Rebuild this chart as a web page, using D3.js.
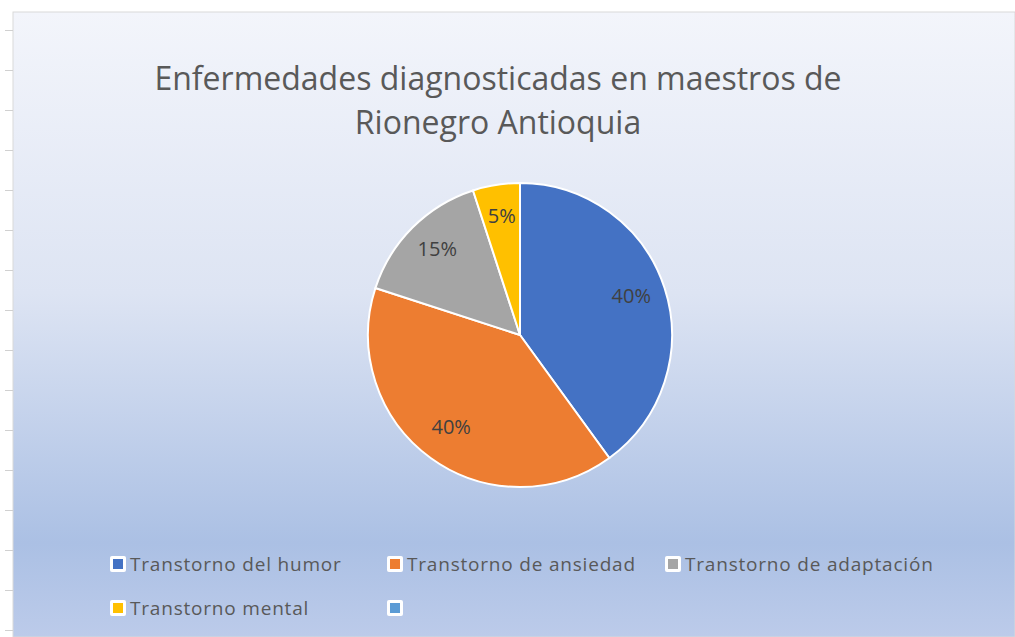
<!DOCTYPE html>
<html>
<head>
<meta charset="utf-8">
<script src="https://cdn.jsdelivr.net/npm/d3@7"></script>
<style>
  body { margin: 0; background: #fff; }
  svg { display: block; }
</style>
</head>
<body>
<div id="chart"></div>
<script>
// data
var categories = ["Transtorno del humor", "Transtorno de ansiedad", "Transtorno de adaptación", "Transtorno mental", ""];
var values = [40, 40, 15, 5, 0];
var colors = ["#4472c4", "#ed7d31", "#a5a5a5", "#ffc000", "#5b9bd5"];
var titleLines = ["Enfermedades diagnosticadas en maestros de", "Rionegro Antioquia"];

var W = 1015, H = 637;
var svg = d3.select("#chart").append("svg")
    .attr("width", W)
    .attr("height", H);

// background gradient of the chart area
var grad = svg.append("defs").append("linearGradient")
    .attr("id", "bg")
    .attr("x1", 0).attr("y1", 0).attr("x2", 0).attr("y2", 1);
grad.append("stop").attr("offset", "0%").attr("stop-color", "#f3f5fb");
grad.append("stop").attr("offset", "45%").attr("stop-color", "#dde4f3");
grad.append("stop").attr("offset", "85%").attr("stop-color", "#abc0e4");
grad.append("stop").attr("offset", "100%").attr("stop-color", "#bccbea");

var area = { x: 13, y: 12 };
svg.append("rect")
    .attr("x", area.x).attr("y", area.y)
    .attr("width", W - area.x).attr("height", H - area.y)
    .attr("fill", "url(#bg)")
    .attr("stroke", "#d9d9d9")
    .attr("stroke-width", 1);

// spreadsheet row ticks on the left
var rows = d3.range(30, H, 40);
svg.selectAll("line.row").data(rows).enter().append("line")
    .attr("class", "row")
    .attr("x1", 5).attr("x2", area.x)
    .attr("y1", d => d + 0.5).attr("y2", d => d + 0.5)
    .attr("stroke", "#d0d0d0");

// title
svg.append("g").selectAll("text").data(titleLines).enter().append("text")
    .attr("x", 498)
    .attr("y", (d, i) => 90 + i * 44)
    .attr("text-anchor", "middle")
    .style("font-family", "'Open Sans', sans-serif")
    .style("font-size", "32px")
    .style("fill", "#595959")
    .text(d => d);

// pie
var cx = 520, cy = 335, R = 152;
var data = categories.map((c, i) => ({ name: c, value: values[i], color: colors[i] }));
var total = d3.sum(values);

var pie = d3.pie().sort(null).value(d => d.value);
var arc = d3.arc().innerRadius(0).outerRadius(R);
var labelArc = d3.arc().innerRadius(R * 0.77).outerRadius(R * 0.77);

var g = svg.append("g").attr("transform", "translate(" + cx + "," + cy + ")");
var slices = pie(data).filter(d => d.data.value > 0);

g.selectAll("path").data(slices).enter().append("path")
    .attr("d", arc)
    .attr("fill", d => d.data.color)
    .attr("stroke", "#fff")
    .attr("stroke-width", 2);

g.selectAll("text").data(slices).enter().append("text")
    .attr("transform", d => "translate(" + labelArc.centroid(d) + ")")
    .attr("text-anchor", "middle")
    .attr("dy", "0.2em")
    .style("font-family", "'Open Sans', sans-serif")
    .style("font-size", "20px")
    .style("fill", "#404040")
    .text(d => Math.round(d.data.value / total * 100) + "%");

// legend, three per row
var legX = [110, 387, 665], legY = [564, 608];
var leg = svg.append("g").selectAll("g").data(data).enter().append("g")
    .attr("transform", (d, i) => "translate(" + legX[i % 3] + "," + legY[Math.floor(i / 3)] + ")");

leg.append("rect")
    .attr("x", 0).attr("y", -8)
    .attr("width", 16).attr("height", 16)
    .attr("rx", 2)
    .attr("fill", "#fff");
leg.append("rect")
    .attr("x", 3).attr("y", -5)
    .attr("width", 10).attr("height", 10)
    .attr("fill", d => d.color);
leg.append("text")
    .attr("x", 20)
    .attr("dy", "0.36em")
    .style("font-family", "'Open Sans', sans-serif")
    .style("font-size", "19px")
    .style("letter-spacing", "0.8px")
    .style("fill", "#595959")
    .text(d => d.name);
</script>
</body>
</html>
